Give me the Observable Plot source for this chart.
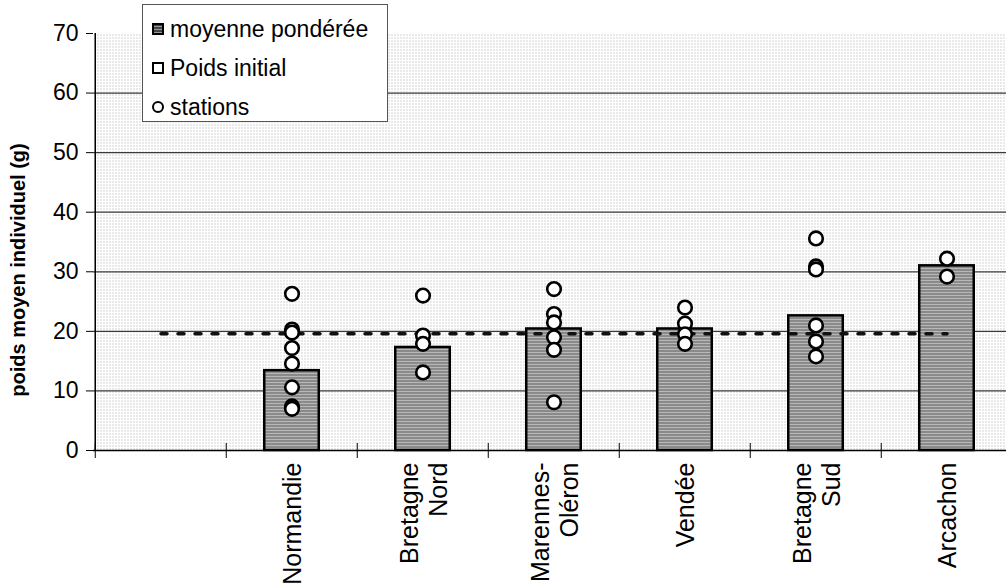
<!DOCTYPE html>
<html>
<head>
<meta charset="utf-8">
<script src="https://cdn.jsdelivr.net/npm/d3@7"></script>
<script src="https://cdn.jsdelivr.net/npm/@observablehq/plot@0.6"></script>
<style>
  html, body { margin: 0; padding: 0; background: #fff; }
  #wrap { position: relative; width: 1006px; height: 588px; overflow: hidden; font-family: "Liberation Sans", Arial, sans-serif; }
  #legend { position: absolute; left: 142px; top: 4px; width: 246px; height: 118px; background: #fff; border: 1px solid #555; box-sizing: border-box; }
  .li { position: absolute; left: 0; height: 28px; display: flex; align-items: center; font-size: 23px; color: #000; }
  .sw { width: 12px; height: 12px; margin-left: 9px; margin-right: 6px; box-sizing: border-box; }
</style>
</head>
<body>
<div id="wrap">
  <div id="chart"></div>
  <div id="legend">
    <div class="li" style="top:10px"><div class="sw" style="border:2px solid #000;background:#555;background-image:repeating-linear-gradient(0deg,#999 0 1px,#444 1px 3px);"></div>moyenne pondérée</div>
    <div class="li" style="top:49px"><div class="sw" style="border:2px solid #000;background:#fff;"></div>Poids initial</div>
    <div class="li" style="top:88px"><div class="sw" style="border:2.5px solid #000;border-radius:50%;background:#fff;"></div>stations</div>
  </div>
</div>
<script>
// Categories (first slot is empty in the original chart)
const categories = ["", "Normandie", "Bretagne\nNord", "Marennes-\nOléron", "Vendée", "Bretagne\nSud", "Arcachon"];
const regions = ["Normandie", "Bretagne\nNord", "Marennes-\nOléron", "Vendée", "Bretagne\nSud", "Arcachon"];
// moyenne pondérée (g)
const moyennePonderee = [13.4, 17.3, 20.4, 20.4, 22.6, 31.0];
// Poids initial (g), one value per category slot
const poidsInitial = [19.6, 19.6, 19.6, 19.6, 19.6, 19.6, 19.6];
// stations (g)
const stNormandie = [26.3, 20.3, 19.8, 17.2, 14.6, 10.6, 7.4, 7.0];
const stBretagneNord = [26.0, 19.3, 17.9, 13.1];
const stMarennes = [27.1, 22.9, 21.5, 19.0, 16.9, 8.1];
const stVendee = [24.0, 21.3, 19.5, 17.9];
const stBretagneSud = [35.6, 30.9, 30.4, 21.0, 18.3, 15.8];
const stArcachon = [32.2, 29.2];
const yTicks = [0, 10, 20, 30, 40, 50, 60, 70];
const gridValues = [10, 20, 30, 40, 50, 60];

const stationLists = [stNormandie, stBretagneNord, stMarennes, stVendee, stBretagneSud, stArcachon];
const stations = stationLists.flatMap((arr, i) => arr.map(v => ({region: regions[i], value: v})));
const bars = regions.map((r, i) => ({region: r, value: moyennePonderee[i]}));
const initial = categories.map((c, i) => ({cat: c, value: poidsInitial[i]}));

const W = 1006, H = 588;
const x0 = 93.5, x1 = 1014;
const bw = (x1 - x0) / categories.length;

const chart = Plot.plot({
  width: W,
  height: H,
  marginLeft: 93,
  marginRight: 0,
  marginTop: 33,
  marginBottom: 138,
  style: {fontFamily: "Liberation Sans, Arial, sans-serif", fontSize: "23px", color: "#000", background: "transparent", overflow: "visible"},
  x: {type: "band", domain: categories, range: [x0, x1], padding: 0, axis: null},
  y: {domain: [0, 70], axis: null},
  marks: [
    Plot.frame({fill: "url(#stipple)", stroke: "none"}),
    Plot.ruleY(gridValues, {stroke: "#3a3a3a", strokeWidth: 1.2}),
    Plot.barY(bars, {x: "region", y: "value", fill: "url(#barpat)", stroke: "#000", strokeWidth: 2.5, insetLeft: (bw - 55) / 2, insetRight: (bw - 55) / 2}),
    Plot.lineY(initial, {x: "cat", y: "value", stroke: "#111", strokeWidth: 3.5, strokeDasharray: "6,11"}),
    Plot.dot(stations, {x: "region", y: "value", r: 6.8, fill: "#fff", stroke: "#000", strokeWidth: 2.6}),
    Plot.ruleY([0], {stroke: "#000", strokeWidth: 1.5}),
    Plot.ruleX([categories[0]], {dx: -bw / 2, stroke: "#000", strokeWidth: 1.5}),
    Plot.axisY({ticks: yTicks, tickSize: 7, tickPadding: 8, fontSize: 23, label: null, stroke: "#000"}),
    Plot.axisX({ticks: categories, tickSize: 15, dy: -7, dx: -bw / 2, tickFormat: () => "", label: null, stroke: "#000"}),
    Plot.axisX({ticks: regions, tickSize: 0, tickPadding: 12, tickRotate: -90, fontSize: 25, lineHeight: 1.15, label: null}),
    Plot.text(["poids moyen individuel (g)"], {frameAnchor: "left", textAnchor: "middle", rotate: -90, dx: -75, dy: 28, fontWeight: "bold", fontSize: 20})
  ]
});

const defs = d3.select(chart).insert("defs", ":first-child");
const st = defs.append("pattern").attr("id", "stipple").attr("patternUnits", "userSpaceOnUse").attr("width", 3).attr("height", 3);
st.append("rect").attr("width", 3).attr("height", 3).attr("fill", "#fff");
st.append("rect").attr("x", 1).attr("y", 1).attr("width", 1).attr("height", 1).attr("fill", "#a8a8a8");
const bp = defs.append("pattern").attr("id", "barpat").attr("patternUnits", "userSpaceOnUse").attr("width", 3).attr("height", 3);
bp.append("rect").attr("width", 3).attr("height", 3).attr("fill", "#8a8a8a");
bp.append("rect").attr("y", 1).attr("width", 3).attr("height", 1).attr("fill", "#b8b8b8");

document.getElementById("chart").appendChild(chart);
</script>
</body>
</html>
